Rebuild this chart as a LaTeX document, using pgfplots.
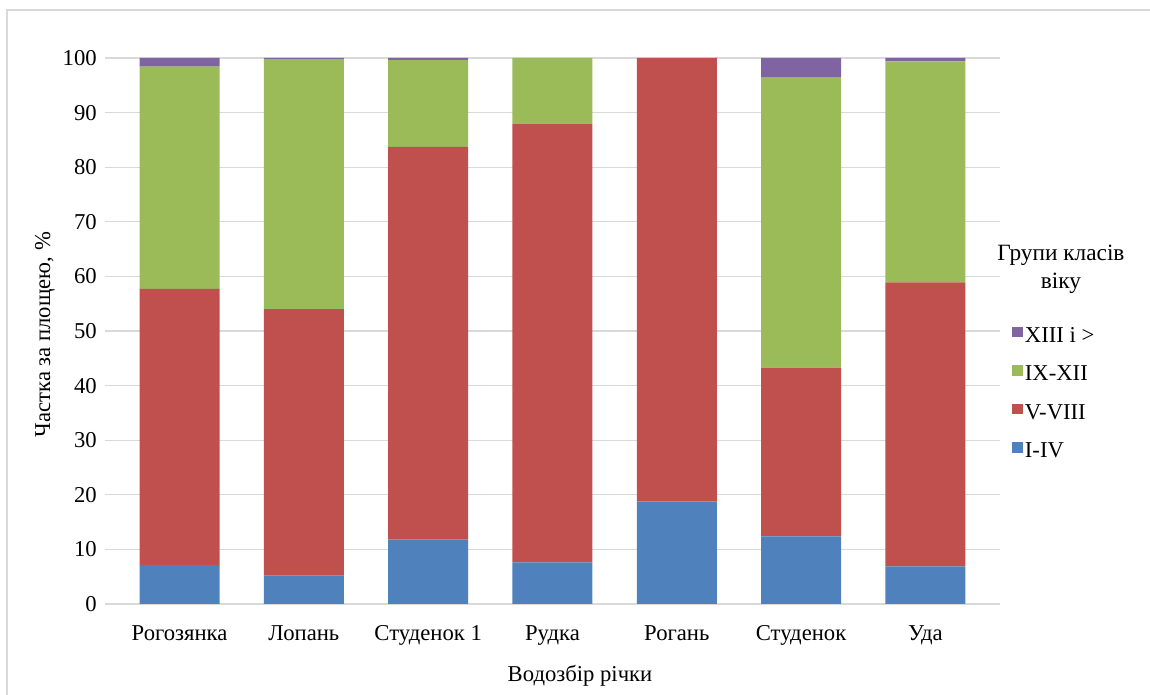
\documentclass[border=0pt]{standalone}
\usepackage{fontspec}
\setmainfont{Liberation Serif}
\usepackage{pgfplots}
\pgfplotsset{compat=1.18}
\definecolor{cBlue}{HTML}{4F81BD}
\definecolor{cRed}{HTML}{C0504D}
\definecolor{cGreen}{HTML}{9BBB59}
\definecolor{cPurple}{HTML}{8064A2}
\definecolor{cGrid}{HTML}{D9D9D9}
\begin{document}
\fontsize{17}{20}\selectfont
\begin{tikzpicture}
\path[use as bounding box] (-78.75pt,-68.25pt) rectangle (783.75pt,453pt);
\draw[cGrid, line width=0.9pt] (-73.5pt,-70pt) -- (-73.5pt,445.5pt) -- (790pt,445.5pt);
\begin{axis}[
  at={(0pt,0pt)}, anchor=south west,
  scale only axis,
  width=671.25pt, height=409.5pt,
  ybar stacked, bar width=60pt,
  xmin=-0.6, xmax=6.6, ymin=0, ymax=100,
  xtick={0,1,2,3,4,5,6},
  xticklabels={Рогозянка,Лопань,Студенок 1,Рудка,Рогань,Студенок,Уда},
  ytick={0,10,...,100},
  axis lines*=left,
  axis line style={draw=none},
  major tick length=0pt,
  ymajorgrids, grid style={cGrid, line width=0.9pt},
  /pgf/number format/assume math mode=true,
  tick label style={font=\fontsize{17}{20}\selectfont},
  xticklabel style={anchor=base, yshift=-27.75pt},
  yticklabel style={anchor=east, inner sep=0pt, xshift=-6pt},
  reverse legend,
  legend cell align=left,
  legend style={draw=none, fill=none, at={(rel axis cs:1.0134,0.384)}, anchor=west,
    inner sep=0pt, row sep=12.2pt, font=\fontsize{17}{20}\selectfont,
    nodes={inner sep=1.5pt}},
  legend image code/.code={\fill[#1] (0pt,-0.5pt) rectangle (8pt,7.5pt);},
  clip=false,
]
\addplot[fill=cBlue, draw=none] coordinates {(0,7.1) (1,5.2) (2,11.8) (3,7.6) (4,18.8) (5,12.4) (6,6.9)};
\addplot[fill=cRed, draw=none] coordinates {(0,50.6) (1,48.8) (2,71.9) (3,80.4) (4,81.2) (5,30.9) (6,52.0)};
\addplot[fill=cGreen, draw=none] coordinates {(0,40.7) (1,45.7) (2,15.9) (3,12.0) (4,0) (5,53.1) (6,40.5)};
\addplot[fill=cPurple, draw=none] coordinates {(0,1.6) (1,0.3) (2,0.4) (3,0) (4,0) (5,3.6) (6,0.6)};
\legend{I-IV,V-VIII,IX-XII,XIII і >}
\end{axis}
\node[rotate=90] at (-45pt,202pt) {Частка за площею, \%};
\node at (356.25pt,-54pt) {Водозбір річки};
\node[align=center, font=\fontsize{17.5}{20.5}\selectfont] at (717pt,251pt) {Групи класів\\віку};
\end{tikzpicture}
\end{document}
